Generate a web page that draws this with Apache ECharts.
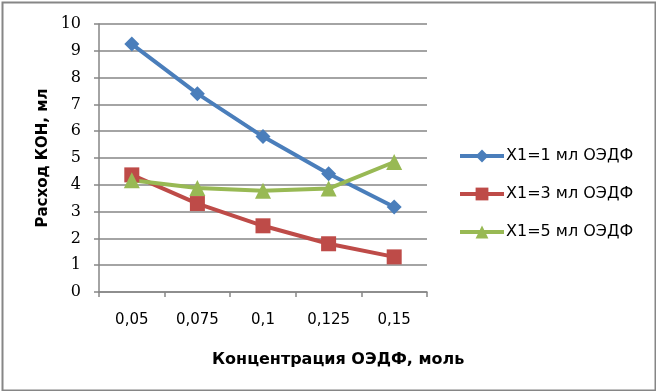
<!DOCTYPE html>
<html><head><meta charset="utf-8">
<script src="https://cdn.jsdelivr.net/npm/echarts@6/dist/echarts.min.js"></script>
<style>html,body{margin:0;padding:0;background:#fff}#c{width:656px;height:391px}</style>
</head><body><div id="c"></div>
<script>
const categories = ['0,05', '0,075', '0,1', '0,125', '0,15'];
const seriesNames = ['X1=1 мл ОЭДФ', 'X1=3 мл ОЭДФ', 'X1=5 мл ОЭДФ'];
const x1_1 = [9.25, 7.4, 5.8, 4.41, 3.17];
const x1_3 = [4.37, 3.3, 2.47, 1.8, 1.31];
const x1_5 = [4.17, 3.88, 3.78, 3.86, 4.85];
const yTicks = { min: 0, max: 10, interval: 1 };
const xTitle = 'Концентрация ОЭДФ, моль';
const yTitle = 'Расход КОН, мл';

const colors = ['#4a7ebb', '#be4b48', '#98b954'];
const symbols = ['diamond', 'rect', 'triangle'];
const sizes = [15, 15, 16];
const data = [x1_1, x1_3, x1_5];
const gridColor = '#868686';

const chart = echarts.init(document.getElementById('c'), null, {renderer: 'canvas'});
chart.setOption({
  animation: false,
  color: colors,
  title: {
    text: xTitle, left: 207, top: 347,
    textStyle: {fontFamily: 'DejaVu Sans', fontWeight: 'bold', fontSize: 16, color: '#000'}
  },
  grid: {left: 99, right: 229, top: 24, bottom: 99, containLabel: false},
  legend: {
    orient: 'vertical', left: 453, top: 143, itemGap: 22,
    itemWidth: 44, itemHeight: 16,
    lineStyle: {width: 4},
    textStyle: {fontFamily: 'DejaVu Sans', fontSize: 16, color: '#000', padding: [0,0,0,-3]},
    data: seriesNames
  },
  xAxis: {
    type: 'category', data: categories, boundaryGap: true,
    axisLine: {show: true, lineStyle: {color: gridColor, width: 1.5}},
    axisTick: {show: true, length: 5, inside: false, lineStyle: {color: gridColor, width: 1.5}},
    axisLabel: {margin: 21, fontFamily: 'DejaVu Sans', fontSize: 15, color: '#000'},
    splitLine: {show: false}
  },
  yAxis: {
    type: 'value', min: yTicks.min, max: yTicks.max, interval: yTicks.interval,
    name: yTitle, nameLocation: 'middle', nameGap: 48,
    nameTextStyle: {fontFamily: 'DejaVu Sans', fontWeight: 'bold', fontSize: 15, color: '#000'},
    axisLine: {show: true, lineStyle: {color: gridColor, width: 1.5}},
    axisTick: {show: true, length: 5, lineStyle: {color: gridColor, width: 1.5}},
    axisLabel: {margin: 18, fontFamily: 'DejaVu Serif', fontSize: 16, color: '#000'},
    splitLine: {show: true, lineStyle: {color: gridColor, width: 1.5}}
  },
  graphic: [{
    type: 'rect', left: 0, top: 0, silent: true, z: 100,
    shape: {x: 1, y: 1, width: 653, height: 388},
    style: {fill: 'none', stroke: gridColor, lineWidth: 2}
  }],
  series: data.map((d, i) => ({
    name: seriesNames[i], type: 'line', data: d,
    symbol: symbols[i], symbolSize: sizes[i], showSymbol: true,
    lineStyle: {width: 4, color: colors[i]},
    itemStyle: {color: colors[i]}
  }))
});
</script></body></html>
